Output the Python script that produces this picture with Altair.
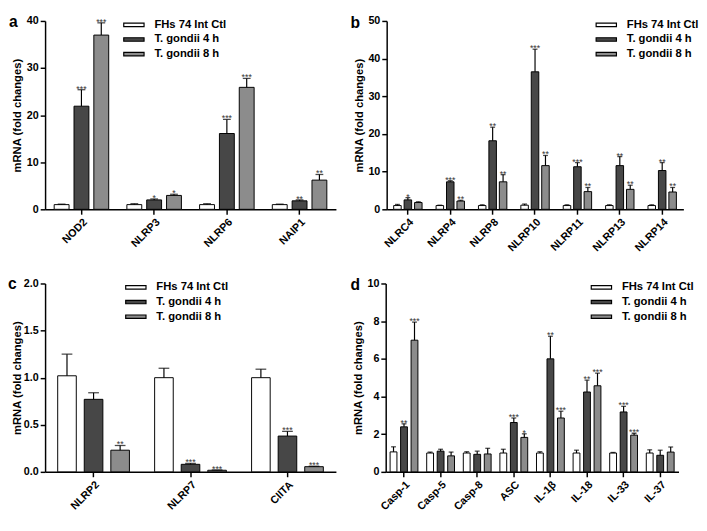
import altair as alt
import pandas as pd

GROUPS = ["FHs 74 Int Ctl", "T. gondii 4 h", "T. gondii 8 h"]
COLORS = ["#ffffff", "#474747", "#8c8c8c"]
FONT = "Liberation Sans"

# ---- panel a ----
a_genes = ["NOD2", "NLRP3", "NLRP6", "NAIP1"]
a_ctl = [1.0, 1.0, 1.0, 1.0]
a_ctl_err = [0.1, 0.2, 0.2, 0.1]
a_4h = [21.9, 2.0, 16.1, 1.8]
a_4h_err = [3.5, 0.2, 3.0, 0.2]
a_8h = [37.0, 2.95, 25.9, 6.2]
a_8h_err = [2.6, 0.25, 1.9, 1.2]
a_s4 = ["***", "*", "***", "**"]
a_s8 = ["***", "*", "***", "**"]

# ---- panel b ----
b_genes = ["NLRC4", "NLRP4", "NLRP8", "NLRP10", "NLRP11", "NLRP13", "NLRP14"]
b_ctl = [1.0, 1.0, 1.0, 1.1, 1.0, 1.0, 1.0]
b_ctl_err = [0.3, 0.1, 0.2, 0.3, 0.2, 0.2, 0.2]
b_4h = [2.5, 7.3, 18.2, 36.5, 11.3, 11.6, 10.3]
b_4h_err = [0.6, 0.3, 3.6, 6.0, 1.1, 2.4, 2.1]
b_8h = [1.8, 2.2, 7.3, 11.6, 4.7, 5.3, 4.6]
b_8h_err = [0.2, 0.2, 1.9, 2.7, 1.1, 1.1, 1.2]
b_s4 = ["*", "***", "**", "***", "***", "**", "**"]
b_s8 = ["", "**", "**", "**", "**", "**", "**"]

# ---- panel c ----
c_genes = ["NLRP2", "NLRP7", "CIITA"]
c_ctl = [1.02, 1.00, 1.00]
c_ctl_err = [0.23, 0.10, 0.09]
c_4h = [0.77, 0.08, 0.38]
c_4h_err = [0.07, 0.01, 0.05]
c_8h = [0.23, 0.017, 0.055]
c_8h_err = [0.05, 0.003, 0.005]
c_s4 = ["", "***", "***"]
c_s8 = ["**", "***", "***"]

# ---- panel d ----
d_genes = ["Casp-1", "Casp-5", "Casp-8", "ASC", "IL-1β", "IL-18", "IL-33", "IL-37"]
d_ctl = [1.06, 1.0, 1.0, 1.0, 1.0, 1.0, 1.0, 1.0]
d_ctl_err = [0.27, 0.05, 0.07, 0.2, 0.07, 0.15, 0.03, 0.17]
d_4h = [2.39, 1.1, 0.93, 2.62, 6.0, 4.24, 3.18, 0.88]
d_4h_err = [0.16, 0.1, 0.17, 0.24, 1.2, 0.63, 0.3, 0.27]
d_8h = [6.99, 0.85, 0.95, 1.83, 2.86, 4.57, 1.95, 1.05]
d_8h_err = [0.96, 0.2, 0.3, 0.19, 0.36, 0.67, 0.1, 0.27]
d_s4 = ["**", "", "", "***", "**", "**", "***", ""]
d_s8 = ["***", "", "", "*", "***", "***", "***", ""]


def build_df(genes, vals, errs, stars):
    rows = []
    for gi, g in enumerate(GROUPS):
        for i, gene in enumerate(genes):
            rows.append({"gene": gene, "group": g, "value": vals[gi][i],
                         "upper": vals[gi][i] + errs[gi][i], "star": stars[gi][i]})
    return pd.DataFrame(rows)


SYMBOL = "M-1.3,-0.22H1.3V0.22H-1.3Z"


def panel(genes, vals, errs, stars, ymax, ticks, fmt, width, height,
          letter, lx, ly, legx, legy, pin, opin, capw, tpad):
    df = build_df(genes, vals, errs, stars)
    xenc = alt.X("gene:N", sort=genes,
                 scale=alt.Scale(paddingInner=pin, paddingOuter=pin / 2),
                 axis=alt.Axis(title=None, labelAngle=-45, labelFont=FONT,
                               labelFontSize=11, labelFontWeight="bold",
                               labelColor="black", domainColor="black",
                               domainWidth=1.5, tickColor="black", tickWidth=1.5,
                               tickSize=5, labelPadding=2))
    xoff = alt.XOffset("group:N", sort=GROUPS, scale=alt.Scale(paddingInner=opin))
    yscale = alt.Scale(domain=[0, ymax], nice=False)
    yaxis = alt.Axis(title="mRNA (fold changes)", values=ticks, format=fmt, grid=False,
                     labelFont=FONT, labelFontSize=11, labelFontWeight="bold",
                     labelColor="black", titleFont=FONT, titleFontSize=11.5,
                     titleFontWeight="bold", titleColor="black", domainColor="black",
                     domainWidth=1.5, tickColor="black", tickWidth=1.5, tickSize=5,
                     labelPadding=2, titlePadding=tpad)
    base = alt.Chart(df).encode(x=xenc, xOffset=xoff)
    bars = base.mark_bar(stroke="black", strokeWidth=1).encode(
        y=alt.Y("value:Q", scale=yscale, axis=yaxis),
        color=alt.Color("group:N", sort=GROUPS,
                        scale=alt.Scale(domain=GROUPS, range=COLORS),
                        legend=alt.Legend(title=None, orient="none", legendX=legx,
                                          legendY=legy, direction="vertical",
                                          padding=0,
                                          symbolType=SYMBOL, symbolSize=256,
                                          symbolStrokeColor="black",
                                          symbolStrokeWidth=1.2, symbolOpacity=1,
                                          labelFont=FONT, labelFontSize=11.5,
                                          labelFontWeight="bold", labelColor="black",
                                          labelOffset=12, rowPadding=0)))
    rules = base.mark_rule(color="black", strokeWidth=1.2).encode(
        y=alt.Y("value:Q", scale=yscale, axis=yaxis), y2="upper:Q")
    caps = base.mark_tick(color="black", thickness=1.3, size=capw).encode(
        y=alt.Y("upper:Q", scale=yscale, axis=yaxis))
    txt = base.mark_text(baseline="bottom", dy=4, fontSize=9, font=FONT,
                         color="#333333").encode(
        y=alt.Y("upper:Q", scale=yscale, axis=yaxis), text="star:N")
    let = alt.Chart(pd.DataFrame({"t": [letter]})).mark_text(
        align="left", baseline="alphabetic", fontSize=16, fontWeight="bold",
        font=FONT, color="black").encode(x=alt.value(lx), y=alt.value(ly), text="t:N")
    return alt.layer(bars, rules, caps, txt, let).properties(width=width, height=height)


H = 193
pa = panel(a_genes, [a_ctl, a_4h, a_8h], [a_ctl_err, a_4h_err, a_8h_err],
           [["", "", "", ""], a_s4, a_s8], 40, [0, 10, 20, 30, 40], "d",
           298, H, "a", -37, 6, 82, -5, 0.25, 0.25, 8, 4)
pb = panel(b_genes, [b_ctl, b_4h, b_8h], [b_ctl_err, b_4h_err, b_8h_err],
           [[""] * 7, b_s4, b_s8], 50, [0, 10, 20, 30, 40, 50], "d",
           304, H, "b", -37, 7, 216, -5, 0.33, 0.28, 5, 4)
pc = panel(c_genes, [c_ctl, c_4h, c_8h], [c_ctl_err, c_4h_err, c_8h_err],
           [["", "", ""], c_s4, c_s8], 2.0, [0, 0.5, 1.0, 1.5, 2.0], ".1f",
           298, H, "c", -38, 6, 84, -5, 0.26, 0.3, 11, 1)
pd_ = panel(d_genes, [d_ctl, d_4h, d_8h], [d_ctl_err, d_4h_err, d_8h_err],
            [[""] * 8, d_s4, d_s8], 10, [0, 2, 4, 6, 8, 10], "d",
            300, H, "d", -36, 7, 212, -5, 0.24, 0.35, 5, 4)

row1 = alt.hconcat(pa, pb, spacing=15).resolve_scale(color="independent", xOffset="independent")
row2 = alt.hconcat(pc, pd_, spacing=15).resolve_scale(color="independent", xOffset="independent")
chart = alt.vconcat(row1, row2, spacing=24).resolve_scale(
    color="independent", xOffset="independent").properties(
    padding=0
).configure_view(stroke=None)

chart.save("out.html", embed_options={"renderer": "svg", "actions": False})
